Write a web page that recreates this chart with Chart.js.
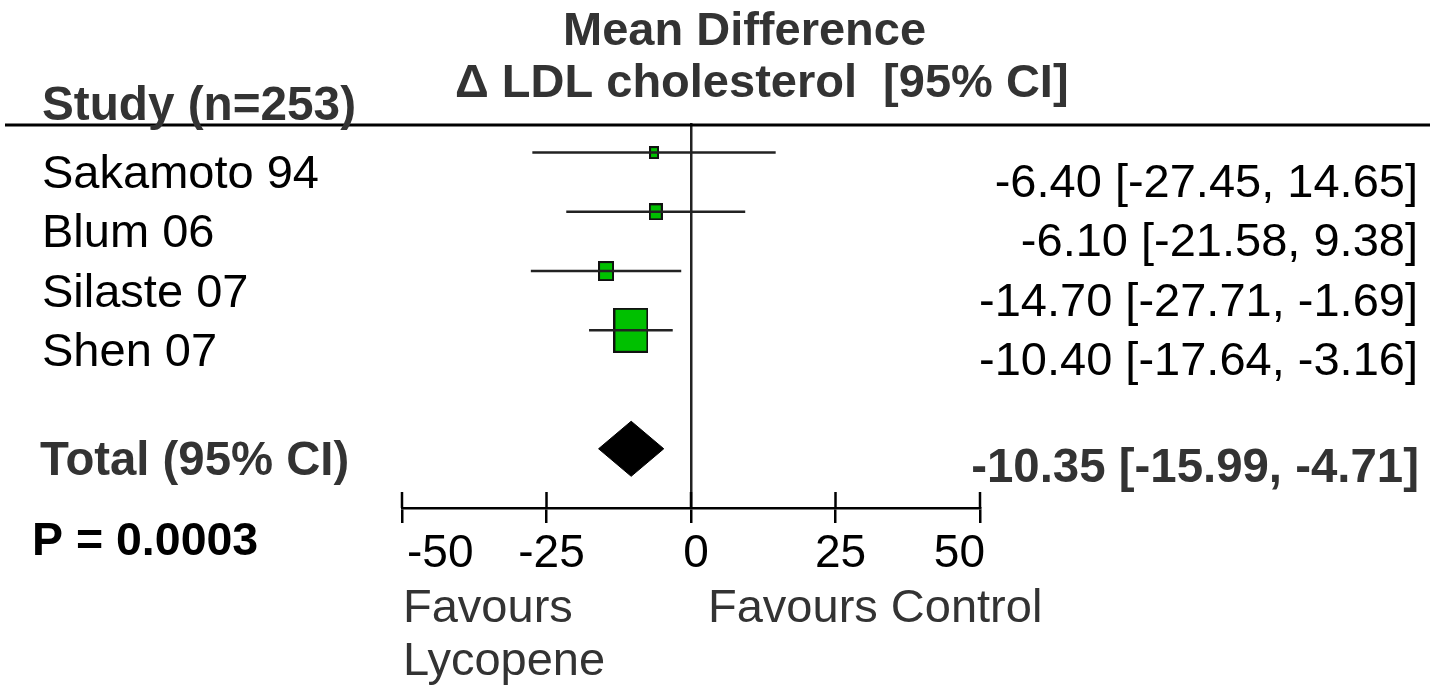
<!DOCTYPE html>
<html><head><meta charset="utf-8">
<script src="https://cdn.jsdelivr.net/npm/chart.js@4.4.1/dist/chart.umd.min.js"></script>
<style>html,body{margin:0;padding:0;background:#fff;overflow:hidden}#wrap{width:1430px;height:690px;position:relative}</style>
</head><body><div id="wrap"><canvas id="c" width="1430" height="690"></canvas></div>
<script>
// ---- data ----
const studies = ['Sakamoto 94', 'Blum 06', 'Silaste 07', 'Shen 07'];
const meanDiff = [-6.40, -6.10, -14.70, -10.40];
const ciLow = [-27.45, -21.58, -27.71, -17.64];
const ciHigh = [14.65, 9.38, -1.69, -3.16];
const totalLabel = 'Total (95% CI)';
const totalMD = [-10.35];
const totalLow = [-15.99];
const totalHigh = [-4.71];
const xTicks = [-50, -25, 0, 25, 50];
const pValueText = 'P = 0.0003';
const headerStudy = 'Study (n=253)';
const titleLines = ['Mean Difference', 'Δ LDL cholesterol  [95% CI]'];
const favourLeft = ['Favours', 'Lycopene'];
const favourRight = 'Favours Control';

// ---- style ----
const FONT = "'Liberation Sans', Arial, sans-serif";
const studyRows = [0, 1, 2, 3];
const totalRow = 5;
const markerW = [10, 14, 16, 35];
const markerH = [13, 17, 20, 45];
const diamondHalf = 0.465;
const GREEN = '#00c000';
const LINE = '#222';

function boxImg(w, h) {
  const c = document.createElement('canvas');
  c.width = w; c.height = h;
  const g = c.getContext('2d');
  g.fillStyle = '#111'; g.fillRect(0, 0, w, h);
  g.fillStyle = GREEN; g.fillRect(2, 2, w - 4, h - 4);
  return c;
}
const fmt = v => v.toFixed(2);

const datasets = [];
studies.forEach((s, i) => {
  datasets.push({
    label: s + ' CI',
    data: [{x: ciLow[i], y: studyRows[i]}, {x: ciHigh[i], y: studyRows[i]}],
    borderColor: LINE, borderWidth: 2.5, pointRadius: 0, fill: false
  });
});
datasets.push({
  label: 'Mean difference',
  data: meanDiff.map((m, i) => ({x: m, y: studyRows[i]})),
  showLine: false,
  pointStyle: meanDiff.map((m, i) => boxImg(markerW[i], markerH[i])),
  pointRadius: 6, pointHoverRadius: 6
});
datasets.push({
  label: 'Total',
  data: [
    {x: totalLow[0], y: totalRow},
    {x: totalMD[0], y: totalRow - diamondHalf},
    {x: totalHigh[0], y: totalRow},
    {x: totalMD[0], y: totalRow + diamondHalf},
    {x: totalLow[0], y: totalRow}
  ],
  borderColor: '#000', backgroundColor: '#000', borderWidth: 1,
  pointRadius: 0, fill: 'shape', tension: 0
});

const textPlugin = {
  id: 'forestText',
  afterDraw(chart) {
    const ctx = chart.ctx;
    const xs = chart.scales.x, ys = chart.scales.y;
    ctx.save();
    // header rule
    ctx.strokeStyle = '#000'; ctx.lineWidth = 3;
    ctx.beginPath(); ctx.moveTo(5, 125); ctx.lineTo(1430, 125); ctx.stroke();
    // upper halves of axis ticks
    ctx.lineWidth = 2.5; ctx.strokeStyle = '#000';
    xs.ticks.forEach(t => {
      const px = xs.getPixelForValue(t.value);
      ctx.beginPath(); ctx.moveTo(px, chart.chartArea.bottom - 16); ctx.lineTo(px, chart.chartArea.bottom); ctx.stroke();
    });
    ctx.textBaseline = 'alphabetic';
    // titles
    ctx.fillStyle = '#333';
    ctx.font = 'bold 47px ' + FONT;
    ctx.textAlign = 'left';
    ctx.fillText(titleLines[0], 563, 45);
    ctx.fillText(titleLines[1], 455, 97);
    ctx.font = 'bold 47.7px ' + FONT;
    ctx.fillText(headerStudy, 42, 120);
    // study labels
    ctx.fillStyle = '#000';
    ctx.font = '47px ' + FONT;
    studies.forEach((s, i) => {
      const py = ys.getPixelForValue(studyRows[i]);
      ctx.textAlign = 'left';
      ctx.fillText(s, 42, py + 35.5);
      ctx.textAlign = 'right';
      ctx.fillText(fmt(meanDiff[i]) + ' [' + fmt(ciLow[i]) + ', ' + fmt(ciHigh[i]) + ']', 1418, py + 44.5);
    });
    // total
    const ty = ys.getPixelForValue(totalRow);
    ctx.fillStyle = '#333';
    ctx.font = 'bold 47.3px ' + FONT;
    ctx.textAlign = 'left';
    ctx.fillText(totalLabel, 40, ty + 26);
    ctx.textAlign = 'right';
    ctx.font = 'bold 47.4px ' + FONT;
    ctx.fillText(fmt(totalMD[0]) + ' [' + fmt(totalLow[0]) + ', ' + fmt(totalHigh[0]) + ']', 1419, ty + 33);
    // p value
    ctx.fillStyle = '#000';
    ctx.font = 'bold 46.5px ' + FONT;
    ctx.textAlign = 'left';
    ctx.fillText(pValueText, 32, 555);
    // favours
    ctx.fillStyle = '#333';
    ctx.font = '47px ' + FONT;
    ctx.fillText(favourLeft[0], 403, 622);
    ctx.fillText(favourLeft[1], 403, 675);
    ctx.fillText(favourRight, 708, 622);
    ctx.restore();
  }
};

new Chart(document.getElementById('c'), {
  type: 'line',
  data: {datasets},
  options: {
    responsive: false, animation: false, events: [],
    layout: {padding: {left: 402, right: 450, top: 123, bottom: 0}},
    plugins: {legend: {display: false}, tooltip: {enabled: false}, title: {display: false}},
    scales: {
      x: {
        type: 'linear', position: 'bottom', min: -50, max: 50,
        afterBuildTicks: s => { s.ticks = xTicks.map(v => ({value: v})); },
        afterFit: s => { s.height = 182; },
        ticks: {
          font: {family: FONT, size: 46}, color: '#000',
          align: 'inner', labelOffset: 5, padding: 4, maxRotation: 0,
          callback: v => String(v)
        },
        grid: {
          drawOnChartArea: true, drawTicks: true, tickLength: 15,
          color: c => (c.tick && c.tick.value === 0) ? LINE : 'rgba(0,0,0,0)',
          lineWidth: 2.5, tickColor: '#000', tickWidth: 2.5
        },
        border: {display: true, color: '#000', width: 2.5}
      },
      y: {type: 'linear', reverse: true, min: -0.5, max: 6, display: false}
    }
  },
  plugins: [textPlugin]
});
</script></body></html>
